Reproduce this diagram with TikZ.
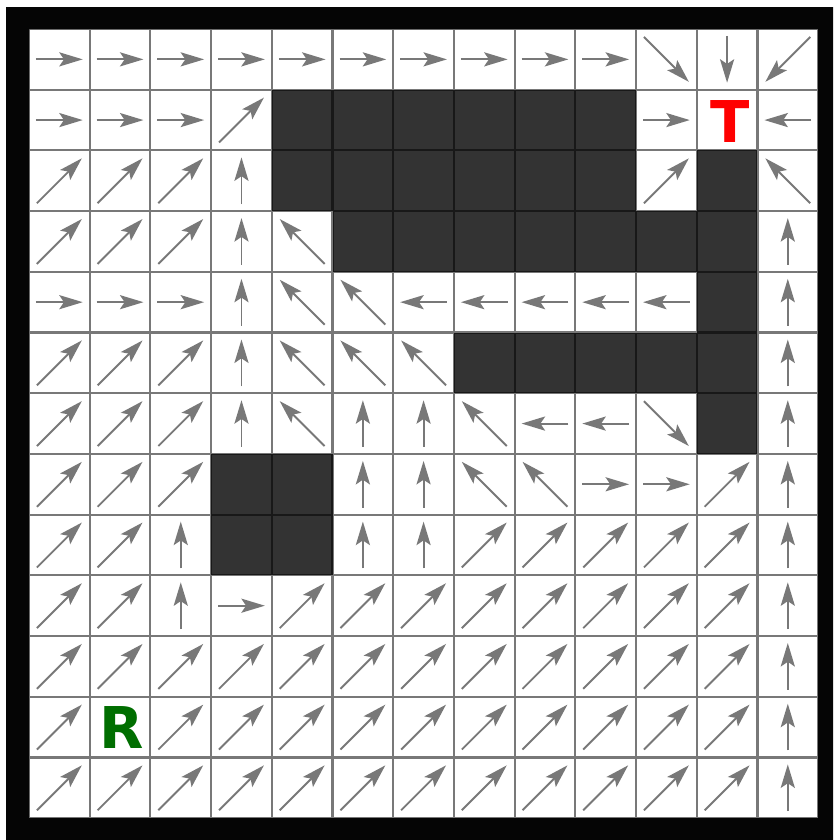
\documentclass[tikz,border=0pt]{standalone}
\usepackage{fontspec}
\newfontfamily\labelfont{DejaVu Sans}
\usepackage{xcolor}
\usetikzlibrary{arrows.meta,calc}
\definecolor{robotgreen}{RGB}{0,110,0}
\definecolor{arrowgray}{RGB}{120,120,120}

\begin{document}
\begin{tikzpicture}[x=1cm,y=1cm,
  vec/.style={draw=arrowgray, line width=0.9pt, -{Stealth[length=11pt,width=6.6pt,inset=2.2pt]}},
  wall/.style={fill=black, fill opacity=0.8},
  letter/.style={font=\labelfont\bfseries\fontsize{27}{27}\selectfont, inner sep=0pt}]
\useasboundingbox (-0.478,0.478) rectangle (13.245,-13.36);
\def\nil{x}
% grid
\fill[white] (0,0) rectangle (13,-13);
\draw[arrowgray, line width=1pt] (0,-13) grid (13,0);
% walls
\foreach \r/\a/\b in {1/4/9,2/4/9,2/11/11,3/5/11,4/11/11,5/7/11,6/11/11,7/3/4,8/3/4}
  \fill[wall] (\a,-\r) rectangle (\b+1,-\r-1);
% frame
\fill[black!98, even odd rule] (-0.379,0.362) rectangle (13.245,-13.36)
  (0,0) rectangle (13,-13);
% policy arrows (angle per cell, x = none)
\foreach \r/\row in {
  0/{0,0,0,0,0,0,0,0,0,0,-45,-90,-135},
  1/{0,0,0,45,x,x,x,x,x,x,0,x,180},
  2/{45,45,45,90,x,x,x,x,x,x,45,x,135},
  3/{45,45,45,90,135,x,x,x,x,x,x,x,90},
  4/{0,0,0,90,135,135,180,180,180,180,180,x,90},
  5/{45,45,45,90,135,135,135,x,x,x,x,x,90},
  6/{45,45,45,90,135,90,90,135,180,180,-45,x,90},
  7/{45,45,45,x,x,90,90,135,135,0,0,45,90},
  8/{45,45,90,x,x,90,90,45,45,45,45,45,90},
  9/{45,45,90,0,45,45,45,45,45,45,45,45,90},
  10/{45,45,45,45,45,45,45,45,45,45,45,45,90},
  11/{45,x,45,45,45,45,45,45,45,45,45,45,90},
  12/{45,45,45,45,45,45,45,45,45,45,45,45,90}}
  \foreach \a [count=\c from 0] in \row {
    \ifx\a\nil\else
      \pgfmathsetmacro\len{0.385+0.138*abs(sin(2*\a))}
      \coordinate (cell) at (\c+0.5,-\r-0.5);
      \draw[vec] ($(cell)+(\a+180:\len)$) -- ($(cell)+(\a:\len)$);
    \fi
  }
% target and robot
\node[letter, text=red] (target) at (11.55,-1.52) {T};
\node[letter, text=robotgreen] (robot) at (1.53,-11.5) {R};
\end{tikzpicture}
\end{document}
